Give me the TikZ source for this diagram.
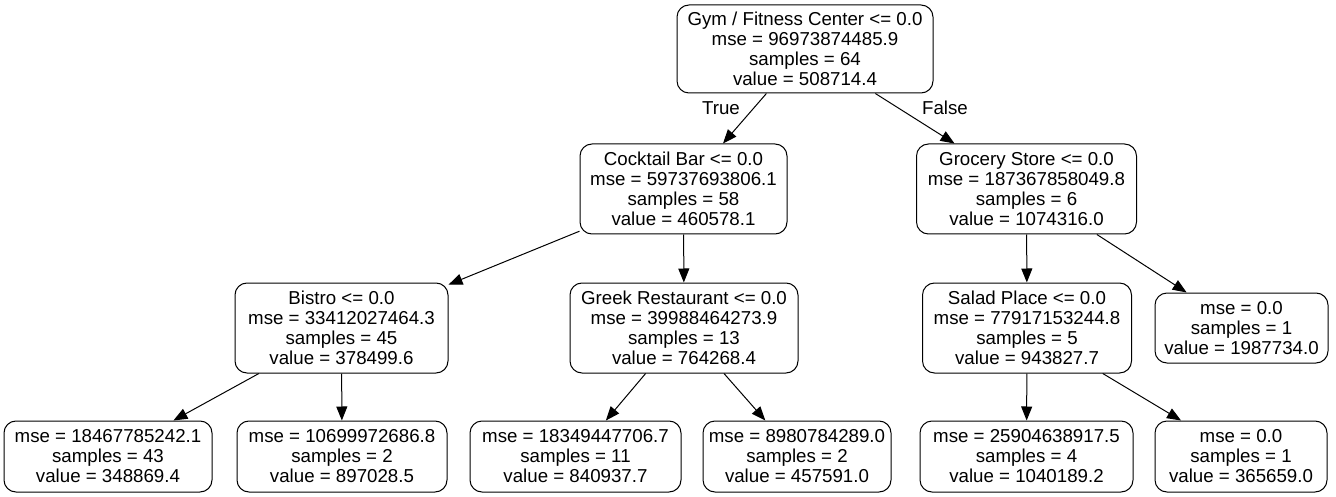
\documentclass[tikz,border=0pt]{standalone}
\usepackage{fontspec}
\setmainfont{Liberation Sans}
\usetikzlibrary{arrows.meta}
\begin{document}
\begin{tikzpicture}[x=1pt,y=-1pt,
  box/.style={draw=black, line width=1pt, rounded corners=12pt, inner sep=0pt,
    align=center, font=\fontsize{18.7}{20}\selectfont},
  edge/.style={draw=black, line width=1pt, -{Triangle[length=14pt,width=11pt]}},
  lbl/.style={font=\fontsize{18.7}{20}\selectfont, inner sep=0pt}]
\useasboundingbox (0,0) rectangle (1336,497);
\node[box, minimum width=256pt, minimum height=88pt] (root) at (805,49)
  {Gym / Fitness Center <= 0.0\\mse = 96973874485.9\\samples = 64\\value = 508714.4};
\node[box, minimum width=207pt, minimum height=90pt] (cb) at (683.5,189)
  {Cocktail Bar <= 0.0\\mse = 59737693806.1\\samples = 58\\value = 460578.1};
\node[box, minimum width=220pt, minimum height=90pt] (gs) at (1026.5,189)
  {Grocery Store <= 0.0\\mse = 187367858049.8\\samples = 6\\value = 1074316.0};
\node[box, minimum width=213pt, minimum height=90pt] (bi) at (341.5,328)
  {Bistro <= 0.0\\mse = 33412027464.3\\samples = 45\\value = 378499.6};
\node[box, minimum width=228pt, minimum height=90pt] (gr) at (684,328)
  {Greek Restaurant <= 0.0\\mse = 39988464273.9\\samples = 13\\value = 764268.4};
\node[box, minimum width=209pt, minimum height=90pt] (sp) at (1027,328)
  {Salad Place <= 0.0\\mse = 77917153244.8\\samples = 5\\value = 943827.7};
\node[box, minimum width=173pt, minimum height=70pt] (l7) at (1241.5,328)
  {mse = 0.0\\samples = 1\\value = 1987734.0};
\node[box, minimum width=208pt, minimum height=71pt] (l1) at (108,456.5)
  {mse = 18467785242.1\\samples = 43\\value = 348869.4};
\node[box, minimum width=210pt, minimum height=71pt] (l2) at (342,456.5)
  {mse = 10699972686.8\\samples = 2\\value = 897028.5};
\node[box, minimum width=211pt, minimum height=71pt] (l3) at (575.5,456.5)
  {mse = 18349447706.7\\samples = 11\\value = 840937.7};
\node[box, minimum width=188pt, minimum height=71pt] (l4) at (797,456.5)
  {mse = 8980784289.0\\samples = 2\\value = 457591.0};
\node[box, minimum width=213pt, minimum height=71pt] (l5) at (1026.5,456.5)
  {mse = 25904638917.5\\samples = 4\\value = 1040189.2};
\node[box, minimum width=172pt, minimum height=71pt] (l6) at (1241,456.5)
  {mse = 0.0\\samples = 1\\value = 365659.0};
\draw[edge] (root) -- (cb);
\draw[edge] (root) -- (gs);
\draw[edge] (cb) -- (bi);
\draw[edge] (cb) -- (gr);
\draw[edge] (gs) -- (sp);
\draw[edge] (gs) -- (l7);
\draw[edge] (bi) -- (l1);
\draw[edge] (bi) -- (l2);
\draw[edge] (gr) -- (l3);
\draw[edge] (gr) -- (l4);
\draw[edge] (sp) -- (l5);
\draw[edge] (sp) -- (l6);
\node[lbl] (tl) at (721,108) {True};
\node[lbl] (fl) at (945,108) {False};
\end{tikzpicture}
\end{document}
